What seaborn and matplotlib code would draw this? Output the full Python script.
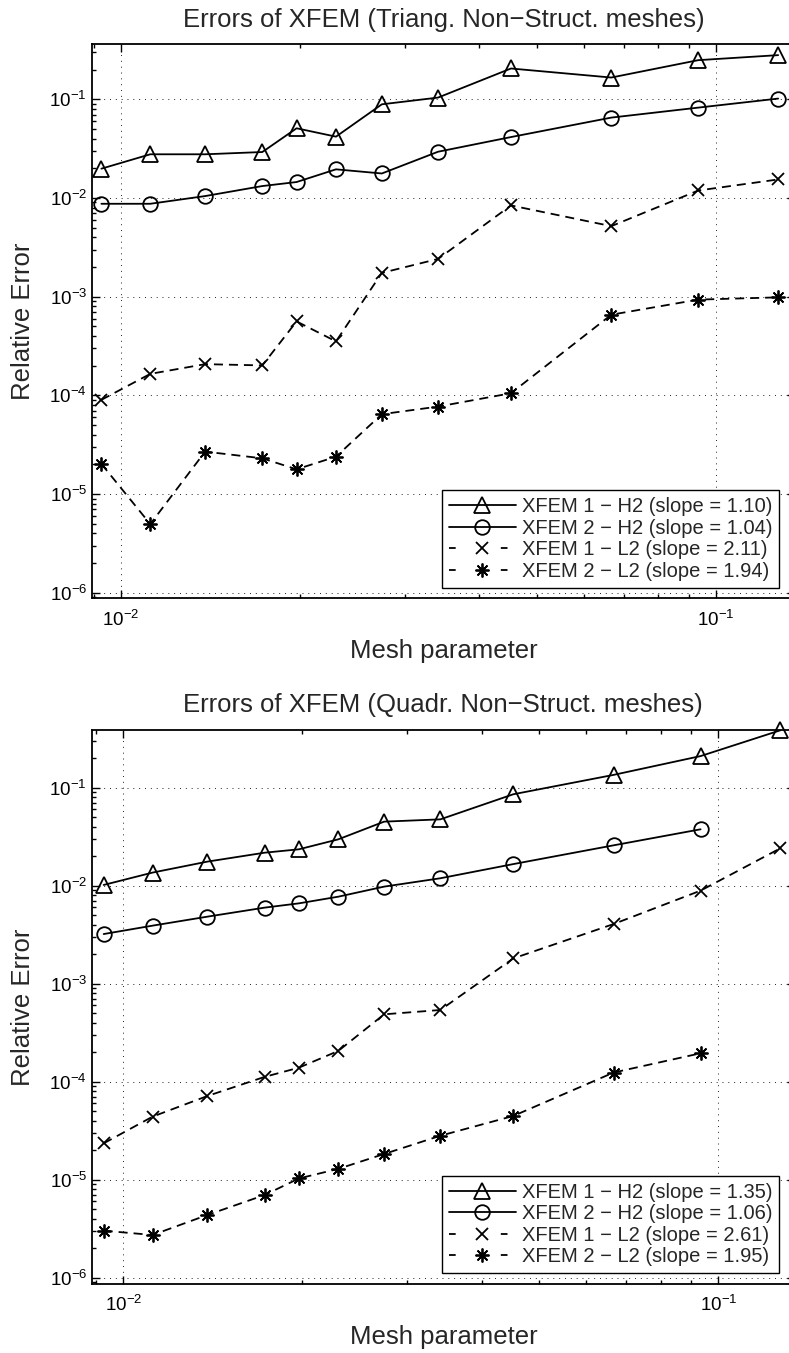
import numpy as np
import pandas as pd
import matplotlib
matplotlib.use('Agg')
import matplotlib.pyplot as plt
import seaborn as sns
from matplotlib.ticker import LogLocator, NullFormatter

sns.set_style('ticks')
plt.rcParams['font.family'] = ['Liberation Sans', 'DejaVu Sans']
plt.rcParams['mathtext.fontset'] = 'custom'
plt.rcParams['mathtext.rm'] = 'Liberation Sans'
plt.rcParams['mathtext.it'] = 'Liberation Sans:italic'
plt.rcParams['mathtext.bf'] = 'Liberation Sans:bold'

# mesh parameter (same meshes for both panels)
h = [0.00927, 0.01120, 0.01385, 0.01728, 0.01973, 0.02298,
     0.02744, 0.03411, 0.04523, 0.06669, 0.09338, 0.1272]

methods = ['XFEM 1 − H2', 'XFEM 2 − H2', 'XFEM 1 − L2', 'XFEM 2 − L2']

# triangular non-structured meshes
tri_x1_h2 = [0.0198, 0.0277, 0.0277, 0.0292, 0.0508, 0.0418, 0.0889, 0.104, 0.205, 0.166, 0.249, 0.28]
tri_x2_h2 = [0.00873, 0.00873, 0.01045, 0.0132, 0.0145, 0.0195, 0.0177, 0.0294, 0.0414, 0.0652, 0.0823, 0.1016]
tri_x1_l2 = [9.0e-5, 1.65e-4, 2.07e-4, 2.01e-4, 5.61e-4, 3.52e-4, 1.74e-3, 2.41e-3, 8.4e-3, 5.18e-3, 0.0119, 0.0154]
tri_x2_l2 = [2.02e-5, 4.96e-6, 2.69e-5, 2.30e-5, 1.78e-5, 2.39e-5, 6.44e-5, 7.69e-5, 1.05e-4, 6.56e-4, 9.33e-4, 9.84e-4]
tri_slopes = ['1.10', '1.04', '2.11', '1.94']

# quadrilateral non-structured meshes
quad_x1_h2 = [0.01017, 0.0136, 0.0176, 0.0217, 0.0235, 0.0297, 0.045, 0.0475, 0.0856, 0.135, 0.21, 0.385]
quad_x2_h2 = [3.21e-3, 3.91e-3, 4.83e-3, 5.97e-3, 6.6e-3, 7.72e-3, 9.78e-3, 0.0119, 0.0166, 0.0258, 0.0376]
quad_x1_l2 = [2.35e-5, 4.4e-5, 7.15e-5, 1.12e-4, 1.39e-4, 2.06e-4, 4.87e-4, 5.39e-4, 1.81e-3, 4.06e-3, 8.9e-3, 0.0241]
quad_x2_l2 = [3.02e-6, 2.73e-6, 4.37e-6, 6.98e-6, 1.03e-5, 1.29e-5, 1.83e-5, 2.81e-5, 4.47e-5, 1.24e-4, 1.95e-4]
quad_slopes = ['1.35', '1.06', '2.61', '1.95']


def make_df(series):
    rows = []
    for name, vals in zip(methods, series):
        for hv, ev in zip(h, vals):
            rows.append({'h': hv, 'error': ev, 'method': name})
    return pd.DataFrame(rows)


tri_df = make_df([tri_x1_h2, tri_x2_h2, tri_x1_l2, tri_x2_l2])
quad_df = make_df([quad_x1_h2, quad_x2_h2, quad_x1_l2, quad_x2_l2])

dash = (0, (5, 3.3))
line_styles = [
    dict(marker='^', ms=12, ls='-'),
    dict(marker='o', ms=10.5, ls='-'),
    dict(marker='x', ms=8, ls=dash),
    dict(marker=(8, 2, 0), ms=10, ls=dash),
]


def draw_panel(ax, df, slopes, title, xlim, ylim):
    ax.set_xscale('log')
    ax.set_yscale('log')
    for name, st, slope in zip(methods, line_styles, slopes):
        sub = df[df['method'] == name]
        sns.lineplot(data=sub, x='h', y='error', ax=ax, color='k', lw=1.3,
                     marker=st['marker'], ms=st['ms'], mfc='none', mec='k', mew=1.3,
                     linestyle=st['ls'], errorbar=None, clip_on=False,
                     label=f'{name} (slope = {slope})')
    ax.set_xlim(*xlim)
    ax.set_ylim(*ylim)

    ax.xaxis.set_major_locator(LogLocator(base=10, numticks=20))
    ax.xaxis.set_minor_locator(LogLocator(base=10, subs=np.arange(2, 10), numticks=20))
    ax.yaxis.set_major_locator(LogLocator(base=10, numticks=20))
    ax.yaxis.set_minor_locator(LogLocator(base=10, subs=np.arange(2, 10), numticks=20))
    ax.xaxis.set_minor_formatter(NullFormatter())
    ax.yaxis.set_minor_formatter(NullFormatter())

    ax.tick_params(which='both', direction='in', top=True, right=True,
                   colors='k', width=1.0, labelsize=13.5)
    ax.tick_params(which='major', length=6)
    ax.tick_params(which='minor', length=3)
    ax.tick_params(axis='x', which='major', pad=8)
    ax.tick_params(axis='y', which='major', pad=3.4)

    ax.grid(True, which='major', linestyle=(0, (1, 5)), lw=0.7, color='#222222')
    ax.set_axisbelow(True)
    for sp in ax.spines.values():
        sp.set_color('k')
        sp.set_linewidth(1.3)

    ax.set_title(title, fontsize=18.5, pad=12.7)
    ax.set_xlabel('Mesh parameter', fontsize=18.5)
    ax.set_ylabel('Relative Error', fontsize=18.5)
    ax.xaxis.set_label_coords(0.5, -0.0735)
    ax.yaxis.set_label_coords(-0.0799, 0.5)

    leg = ax.legend(loc='lower right', bbox_to_anchor=(0.9777, 0.0193), borderaxespad=0,
                    fontsize=14.5, frameon=True, fancybox=False, framealpha=1,
                    edgecolor='k', handlelength=3.3, handletextpad=0.3,
                    labelspacing=0.12, borderpad=0.35)
    leg.get_frame().set_linewidth(1.0)
    for ln, st in zip(leg.get_lines(), line_styles):
        if st['ls'] != '-':
            ln.set_linestyle((0, (3.7, 25)))


fig = plt.figure(figsize=(7.89, 13.53), dpi=100)
fig.set_facecolor('white')
ax1 = fig.add_axes([0.1162, 0.5578, 0.8914, 0.4095])
ax2 = fig.add_axes([0.1162, 0.0510, 0.8914, 0.4095])

draw_panel(ax1, tri_df, tri_slopes, 'Errors of XFEM (Triang. Non−Struct. meshes)',
           (0.008928, 0.13577), (8.78e-7, 0.361))
draw_panel(ax2, quad_df, quad_slopes, 'Errors of XFEM (Quadr. Non−Struct. meshes)',
           (0.008849, 0.13456), (8.63e-7, 0.388))

fig.savefig('out.png', dpi=100)
